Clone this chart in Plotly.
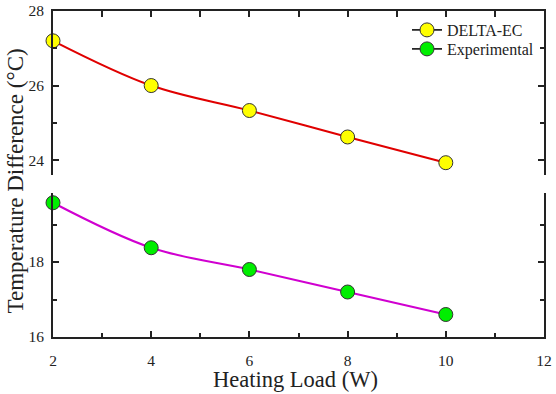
import plotly.graph_objects as go

heating_load = [2, 4, 6, 8, 10]
delta_ec = [27.2, 26.0, 25.33, 24.62, 23.93]
experimental = [19.58, 18.38, 17.8, 17.2, 16.6]
x_ticks = [2, 4, 6, 8, 10, 12]
top_ticks = [24, 26, 28]
bottom_ticks = [16, 18]

FONT = "Liberation Serif"
W, H = 556, 394
ML, MR, MT, MB = 53, 12, 11, 57
PW, PH = W - ML - MR, H - MT - MB

def px_x(p):
    return (p - ML) / PW

def px_y(p):
    return 1 - (p - MT) / PH

fig = go.Figure()

# Top panel: DELTA-EC
fig.add_trace(go.Scatter(
    x=heating_load, y=delta_ec, mode="lines+markers", xaxis="x2", yaxis="y2",
    line=dict(color="#e00000", width=2, shape="spline"),
    marker=dict(size=14, color="#ffff00", line=dict(color="#333333", width=1)),
    showlegend=False, cliponaxis=False))

# Bottom panel: Experimental
fig.add_trace(go.Scatter(
    x=heating_load, y=experimental, mode="lines+markers", xaxis="x", yaxis="y",
    line=dict(color="#d000d0", width=2, shape="spline"),
    marker=dict(size=14, color="#00ee00", line=dict(color="#333333", width=1)),
    showlegend=False, cliponaxis=False))

# Legend entries (black line + coloured marker)
fig.add_trace(go.Scatter(
    x=[None], y=[None], mode="lines+markers", name="DELTA-EC", xaxis="x2", yaxis="y2",
    line=dict(color="black", width=1.5), legend="legend",
    marker=dict(size=14, color="#ffff00", line=dict(color="#333333", width=1))))
fig.add_trace(go.Scatter(
    x=[None], y=[None], mode="lines+markers", name="Experimental", xaxis="x2", yaxis="y2",
    line=dict(color="black", width=1.5), legend="legend2",
    marker=dict(size=14, color="#00ee00", line=dict(color="#333333", width=1))))

tickfont = dict(family=FONT, size=15.5, color="#222222")
common_y = dict(showline=True, linecolor="#222222", linewidth=2, mirror="ticks",
                ticks="inside", ticklen=6, tickwidth=1.5, tickcolor="#222222",
                showgrid=False, zeroline=False, tickfont=tickfont, automargin=False,
                ticklabelstandoff=4, ticklabeloverflow="allow",
                minor=dict(ticks="inside", ticklen=4, tickwidth=1.5, dtick=1, tickcolor="#222222"))

legend_common = dict(xanchor="left", yanchor="middle",
                     font=dict(family=FONT, size=16, color="#222222"),
                     bgcolor="rgba(0,0,0,0)", itemwidth=30)

fig.update_layout(
    width=W, height=H,
    margin=dict(l=ML, r=MR, t=MT, b=MB),
    paper_bgcolor="white", plot_bgcolor="white",
    font=dict(family=FONT, color="#222222"),
    xaxis=dict(domain=[0, 1], anchor="y", range=[2, 12], tickvals=x_ticks,
               showline=True, linecolor="#222222", linewidth=2, automargin=False,
               ticks="inside", ticklen=6, tickwidth=1.5, tickcolor="#222222",
               minor=dict(ticks="inside", ticklen=4, tickwidth=1.5, dtick=1, tickcolor="#222222"),
               showgrid=False, zeroline=False, tickfont=tickfont, ticklabelstandoff=8,
               ticklabeloverflow="allow"),
    xaxis2=dict(domain=[0, 1], anchor="y2", side="top", matches="x", range=[2, 12],
                tickvals=x_ticks, showticklabels=False, automargin=False,
                showline=True, linecolor="#222222", linewidth=2,
                ticks="inside", ticklen=6, tickwidth=1.5, tickcolor="#222222",
                minor=dict(ticks="inside", ticklen=6, tickwidth=1.5, dtick=1, tickcolor="#222222"),
                showgrid=False, zeroline=False),
    yaxis=dict(domain=[0, px_y(193)], range=[16, 19.84], tickvals=bottom_ticks, **common_y),
    yaxis2=dict(domain=[px_y(175), 1], range=[23.6, 28], tickvals=top_ticks, **common_y),
    legend=dict(x=px_x(407), y=px_y(30), **legend_common),
    legend2=dict(x=px_x(407), y=px_y(49), **legend_common),
    annotations=[
        dict(text="Temperature Difference (\u00b0C)", textangle=-90,
             x=px_x(0), xref="paper", xanchor="left",
             y=px_y(181), yref="paper", yanchor="middle", showarrow=False,
             font=dict(family=FONT, size=23, color="#222222")),
        dict(text="Heating Load (W)",
             x=px_x(295), xref="paper", xanchor="center",
             y=px_y(380), yref="paper", yanchor="middle", showarrow=False,
             font=dict(family=FONT, size=22.5, color="#222222")),
    ],
)

fig.write_html("out.html", config={"displayModeBar": False},
               post_script="document.body.style.margin='0px';")
